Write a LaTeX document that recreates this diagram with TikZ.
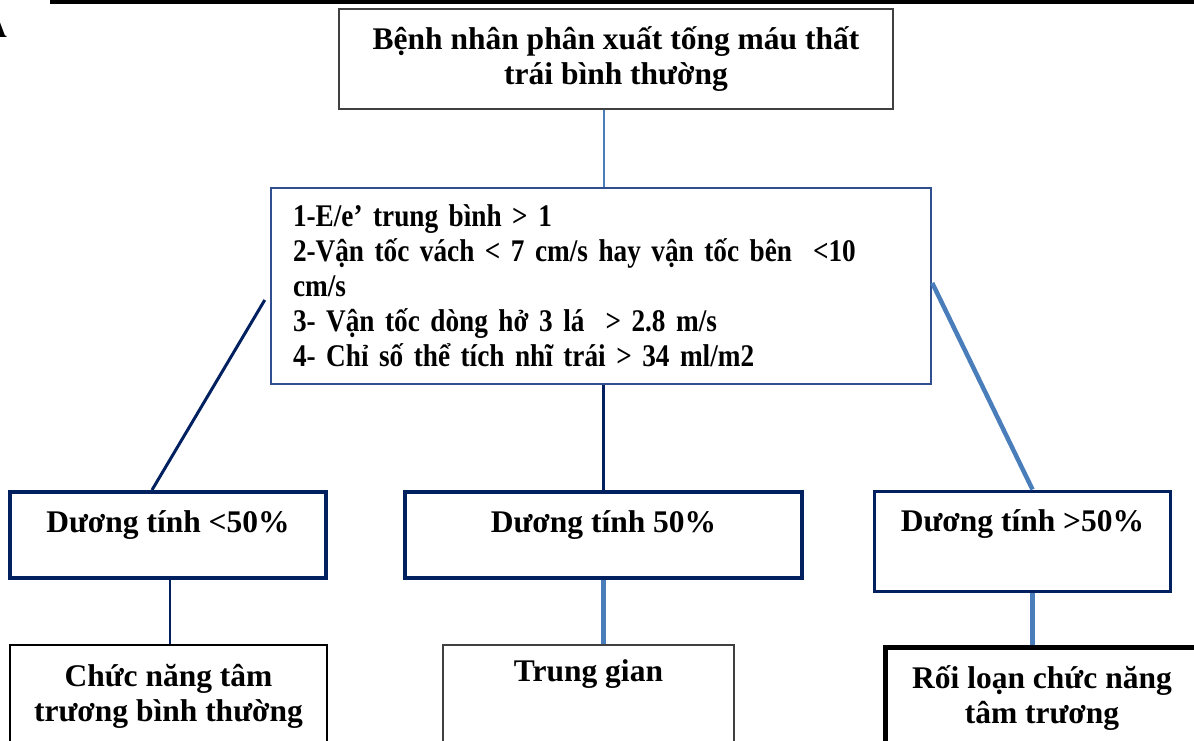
\documentclass[tikz,border=0pt]{standalone}
\usepackage{fontspec}
\setmainfont{Liberation Serif}
\newfontfamily\narrowfont[FakeStretch=0.865]{Liberation Serif}
\usepackage{xcolor}
\usetikzlibrary{positioning}
\definecolor{navy}{HTML}{002060}
\definecolor{steel}{HTML}{4A7EBB}
\definecolor{midblue}{HTML}{2F4F8F}
\definecolor{boxgray}{HTML}{404040}
\newcommand{\critfont}{\narrowfont\fontsize{31.5}{35}\selectfont\bfseries}

\begin{document}
\begin{tikzpicture}[
    x=1pt, y=1pt,
    every node/.style={font=\fontsize{31.5}{35}\selectfont\bfseries},
    topbox/.style={rectangle, draw=boxgray, line width=1.5pt, minimum width=554pt, minimum height=100pt, align=center},
    critbox/.style={rectangle, draw=midblue, line width=2.5pt, text width=616pt, inner xsep=22pt, align=left, minimum height=196pt,
        font=\critfont},
    posbox/.style={rectangle, draw=navy, line width=4pt, inner ysep=0pt, text height=40pt, text depth=46pt, anchor=north},
    resbox/.style={rectangle, draw=black, line width=2pt, anchor=north, align=center, inner ysep=19pt},
    thinlink/.style={draw=steel, line width=2pt},
    navylink/.style={draw=navy, line width=2.5pt},
    bluelink/.style={draw=steel, line width=4.5pt},
]
\useasboundingbox (0,0) rectangle (1194,740);

% Frame corner
\draw[line width=3.5pt] (52,800) -- (52,738) -- (1260,738);
\node[anchor=base east, inner sep=0pt] (lblA) at (7,702) {A};

% Root
\node[topbox] (root) at (616,681) {Bệnh nhân phân xuất tống máu thất\\trái bình thường};

% Criteria
\node[critbox] (crit) at (601,454) {1-E/e’ trung bình > 1\\
2-Vận tốc vách < 7 cm/s hay vận tốc bên ~<10\\
cm/s\\
3- Vận tốc dòng hở 3 lá ~> 2.8 m/s\\
4- Chỉ số thể tích nhĩ trái > 34 ml/m2};

% Positive counts
\node[posbox, minimum width=316pt] (pos1) at (168,250) {Dương tính <50\%};
\node[posbox, minimum width=397pt] (pos2) at (603.5,250) {Dương tính 50\%};
\node[posbox, minimum width=296pt, line width=3pt, text height=40.5pt, text depth=59.5pt] (pos3) at (1022.5,250.5) {Dương tính >50\%};

% Results
\node[resbox, minimum width=317pt] (res1) at (168.5,96) {Chức năng tâm\\trương bình thường};
\node[resbox, minimum width=291pt, draw=boxgray, line width=1.5pt, inner ysep=0pt, text height=37pt, text depth=120pt] (res2) at (588.5,96) {Trung gian};
\node[resbox, minimum width=313pt, line width=5pt] (res3) at (1042,95.5) {Rối loạn chức năng\\tâm trương};

% Links
\draw[thinlink] (root.south -| pos2.north) -- (crit.north -| pos2.north);
\draw[navylink, line width=3pt] ([shift={(-5,-14)}]crit.west) -- ([xshift=-16]pos1.north);
\draw[navylink] (crit.south -| pos2.north) -- (pos2.north);
\draw[bluelink] ([yshift=3]crit.east) -- ([xshift=10]pos3.north);
\draw[navylink, line width=2pt] ([xshift=2]pos1.south) -- ([xshift=2]pos1.south |- res1.north);
\draw[bluelink] (pos2.south) -- (pos2.south |- res2.north);
\draw[bluelink] ([xshift=10]pos3.south) -- ([xshift=10]pos3.south |- res3.north);

\end{tikzpicture}
\end{document}
